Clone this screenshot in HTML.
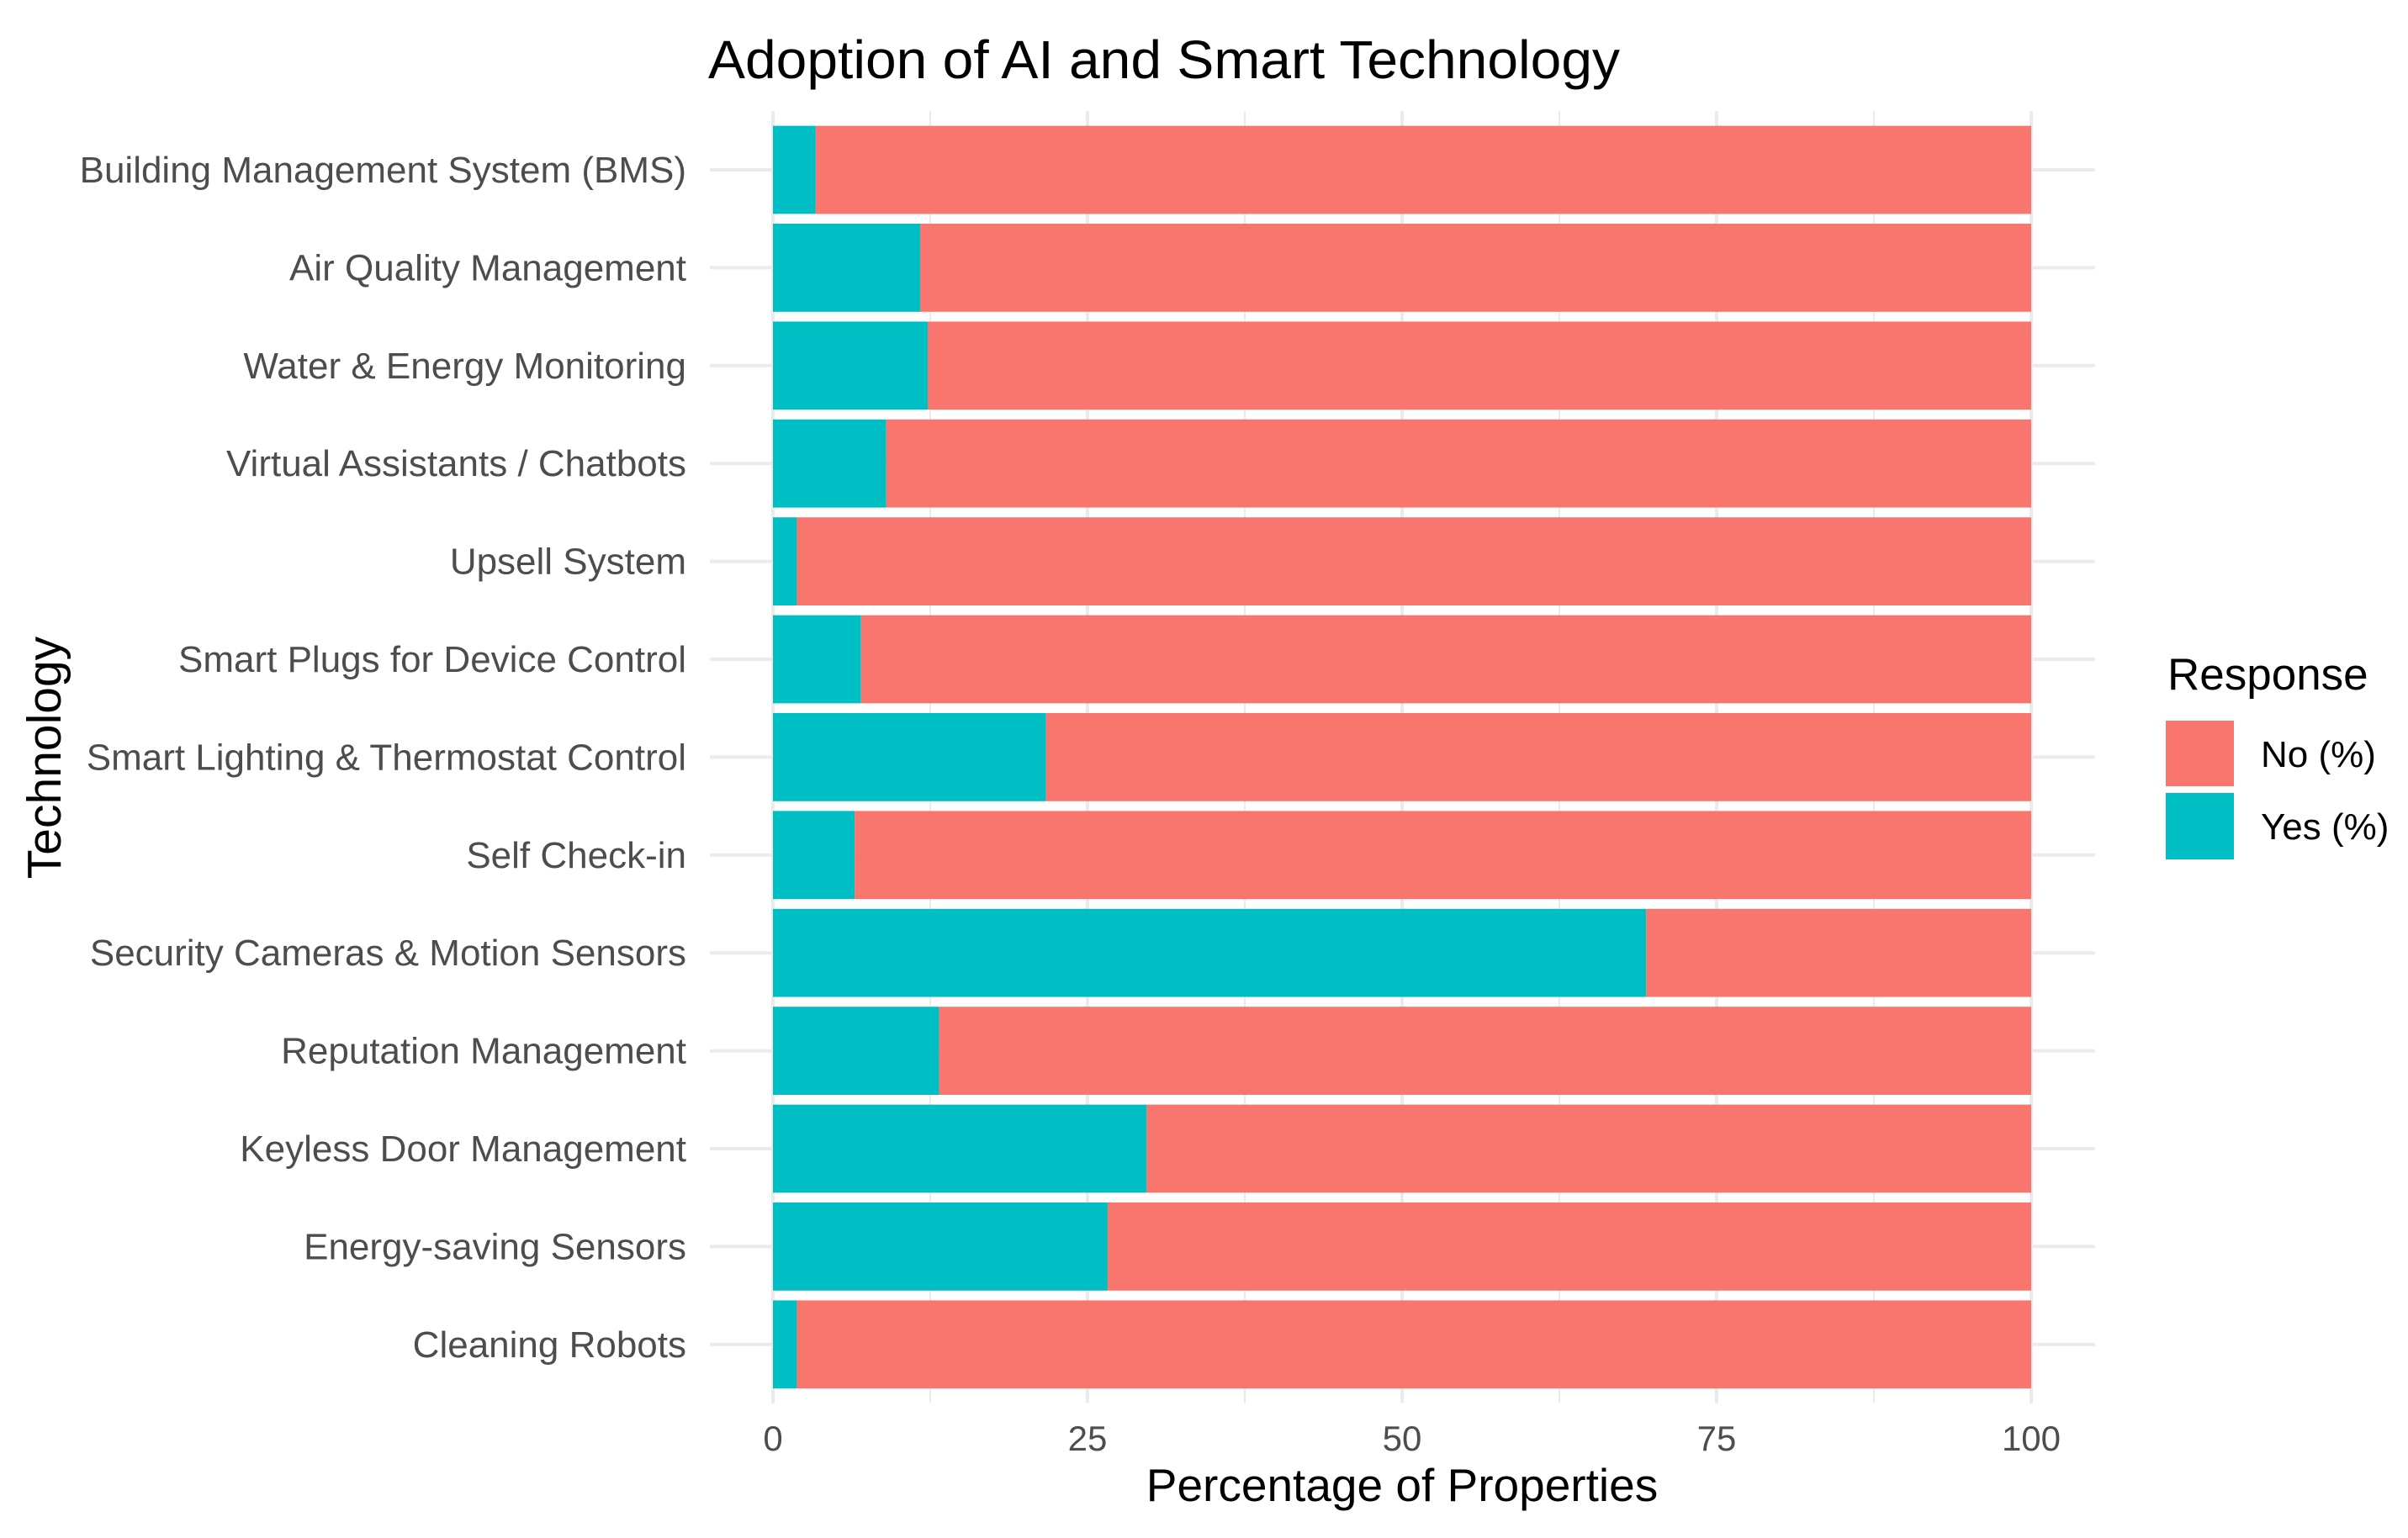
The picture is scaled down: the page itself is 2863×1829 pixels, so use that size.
<!DOCTYPE html>
<html><head><meta charset="utf-8"><style>
html,body{margin:0;padding:0;background:#fff}
svg{display:block;font-family:"Liberation Sans",Arial,sans-serif}
</style></head><body>
<svg id="chart" width="2863" height="1829" viewBox="0 0 2863 1829" xmlns="http://www.w3.org/2000/svg">
<rect width="2863" height="1829" fill="#fff"/>
<g id="grid"></g>
<g id="bars"></g>
<g id="yaxis"></g>
<g id="xaxis"></g>
<text x="842" y="93" font-size="64" fill="#000" textLength="1084" lengthAdjust="spacingAndGlyphs">Adoption of AI and Smart Technology</text>
<text x="1667" y="1785" font-size="55" fill="#000" text-anchor="middle">Percentage of Properties</text>
<text transform="translate(72,901) rotate(-90)" font-size="57" fill="#000" text-anchor="middle">Technology</text>
<g>
<text x="2577" y="820" font-size="53" fill="#000">Response</text>
<rect x="2575" y="857" width="81" height="78" fill="#F8766D"/>
<rect x="2575" y="943" width="81" height="79" fill="#00BFC4"/>
<text x="2688" y="912" font-size="44" fill="#000">No (%)</text>
<text x="2688" y="998" font-size="44" fill="#000">Yes (%)</text>
</g>
</svg>
<script>
const categories = ["Building Management System (BMS)","Air Quality Management","Water & Energy Monitoring","Virtual Assistants / Chatbots","Upsell System","Smart Plugs for Device Control","Smart Lighting & Thermostat Control","Self Check-in","Security Cameras & Motion Sensors","Reputation Management","Keyless Door Management","Energy-saving Sensors","Cleaning Robots"];
const yesValues = [3.4,11.7,12.3,9.0,1.9,7.0,21.7,6.5,69.4,13.2,29.7,26.6,1.9];
const noValues = [96.6,88.3,87.7,91.0,98.1,93.0,78.3,93.5,30.6,86.8,70.3,73.4,98.1];
const xTicks = [0,25,50,75,100];
const xTickLabels = ["0","25","50","75","100"];

const NS="http://www.w3.org/2000/svg";
const x0=919, x1=2415, panelL=844, panelR=2491;
const rowTop=202, rowPitch=116.4, n=categories.length;
const panelT=rowTop-0.6*rowPitch, panelB=rowTop+(n-1)*rowPitch+0.6*rowPitch;
const xScale=v=>x0+(x1-x0)*v/100;
const yScale=i=>rowTop+i*rowPitch;
const barH=rowPitch*0.9;
function mk(tag,attrs,parent){const e=document.createElementNS(NS,tag);for(const k in attrs)e.setAttribute(k,attrs[k]);parent.appendChild(e);return e;}
const grid=document.getElementById('grid'),bars=document.getElementById('bars'),ya=document.getElementById('yaxis'),xa=document.getElementById('xaxis');
for(let i=0;i<xTicks.length-1;i++){
  const m=(xTicks[i]+xTicks[i+1])/2;
  const l=mk('line',{x1:xScale(m),x2:xScale(m),y1:panelT,y2:panelB,stroke:'#ebebeb','stroke-width':2},grid);
  
  
}
xTicks.forEach((t,i)=>{
  const l=mk('line',{x1:xScale(t),x2:xScale(t),y1:panelT,y2:panelB,stroke:'#ebebeb','stroke-width':4},grid);
  
  
  const tx=mk('text',{x:xScale(t),y:1725,'font-size':42,fill:'#4d4d4d','text-anchor':'middle'},xa);
  tx.textContent=xTickLabels[i];
  
  
});
categories.forEach((c,i)=>{
  const cy=yScale(i);
  const g=mk('line',{x1:panelL,x2:panelR,y1:cy,y2:cy,stroke:'#ebebeb','stroke-width':4},grid);
  
  
  const ry=mk('rect',{x:xScale(0),y:cy-barH/2,width:xScale(yesValues[i])-xScale(0),height:barH,fill:'#00BFC4'},bars);
  
  
  const rn=mk('rect',{x:xScale(yesValues[i]),y:cy-barH/2,width:xScale(yesValues[i]+noValues[i])-xScale(yesValues[i]),height:barH,fill:'#F8766D'},bars);
  
  
  const t=mk('text',{x:816,y:cy+15,'font-size':44,fill:'#4d4d4d','text-anchor':'end'},ya);
  t.textContent=c;
  
  
});
</script>
</body></html>
